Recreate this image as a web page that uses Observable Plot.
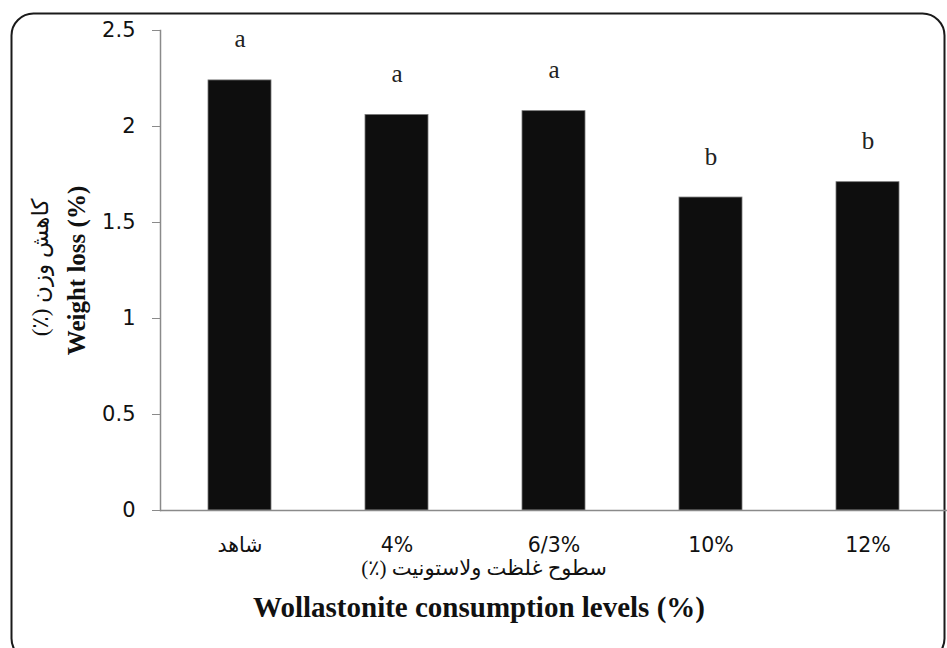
<!DOCTYPE html>
<html>
<head>
<meta charset="utf-8">
<script src="https://cdn.jsdelivr.net/npm/d3@7"></script>
<script src="https://cdn.jsdelivr.net/npm/@observablehq/plot@0.6"></script>
<style>
  html, body { margin: 0; padding: 0; background: #fff; }
  #chart svg { display: block; }
</style>
</head>
<body>
<div id="chart"></div>
<script>
const categories = ["شاهد", "4%", "6/3%", "10%", "12%"];
const values = [2.24, 2.06, 2.08, 1.63, 1.71];
const letters = ["a", "a", "a", "b", "b"];
const yTicks = [0, 0.5, 1, 1.5, 2, 2.5];
const xTitleFa = "\u200Fسطوح غلظت ولاستونیت (٪)\u200F";
const xTitleEn = "Wollastonite consumption levels (%)";
const yTitleFa = "\u200Fکاهش وزن (٪)\u200F";
const yTitleEn = "Weight loss (%)";

const data = categories.map((c, i) => ({cat: c, value: values[i], letter: letters[i]}));

const sans = "'DejaVu Sans', 'Noto Sans', sans-serif";
const serif = "'Liberation Serif', 'DejaVu Serif', 'DejaVu Sans', serif";

const chart = Plot.plot({
  width: 947,
  height: 648,
  marginLeft: 160,
  marginRight: 0,
  marginTop: 30,
  marginBottom: 138,
  style: {background: "#fff", fontFamily: sans},
  x: {domain: categories, paddingInner: 0.6, paddingOuter: 0.3, label: null},
  y: {domain: [0, 2.5], label: null},
  marks: [
    Plot.frame({rx: 22, insetLeft: -149, insetTop: -17, insetRight: 3, insetBottom: -150, stroke: "#1a1a1a", strokeWidth: 2}),
    Plot.barY(data, {x: "cat", y: "value", fill: "#0e0e0e", stroke: "#777", strokeWidth: 0.8}),
    Plot.frame({anchor: "left", stroke: "#8a8a8a", strokeWidth: 1.5}),
    Plot.ruleY([0], {stroke: "#8a8a8a", strokeWidth: 1.5}),
    Plot.axisY({ticks: yTicks, tickSize: 8, tickPadding: 17, stroke: "#8a8a8a", fontSize: 21, fill: "#111", label: null, tickFormat: d => String(d)}),
    Plot.axisX({tickSize: 0, tickPadding: 27, fontSize: 20.5, fill: "#111", label: null}),
    Plot.text(data, {x: "cat", y: "value", text: "letter", dy: -41, fontSize: 25, fontFamily: serif, fill: "#222", lineAnchor: "middle"}),
    Plot.text([xTitleFa], {frameAnchor: "bottom", dx: -70, dy: 58, lineAnchor: "middle", fontSize: 21, fontFamily: serif, fill: "#111"}),
    Plot.text([xTitleEn], {frameAnchor: "bottom", dx: -75, dy: 97, lineAnchor: "middle", fontSize: 29, fontWeight: "bold", fontFamily: serif, fill: "#111"}),
    Plot.text([yTitleEn], {frameAnchor: "left", dx: -84, rotate: -90, textAnchor: "middle", lineAnchor: "middle", fontSize: 25, fontWeight: "bold", fontFamily: serif, fill: "#111"}),
    Plot.text([yTitleFa], {frameAnchor: "left", dx: -120, dy: -3, rotate: -90, textAnchor: "middle", lineAnchor: "middle", fontSize: 23, fontFamily: serif, fill: "#111"})
  ]
});
document.getElementById("chart").appendChild(chart);
</script>
</body>
</html>
